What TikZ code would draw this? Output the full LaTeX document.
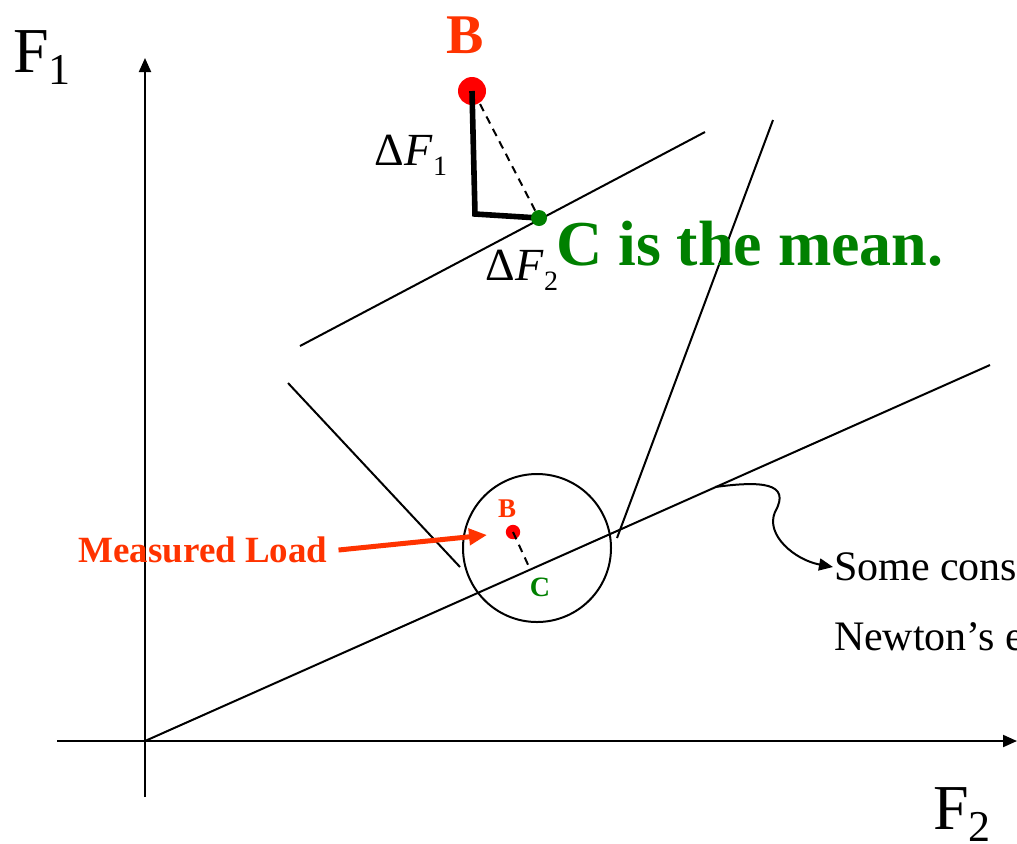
\documentclass[tikz,border=0pt]{standalone}
\usepackage{fontspec}
\setmainfont{Liberation Serif}
\usetikzlibrary{arrows.meta}
\definecolor{loadred}{HTML}{FF3300}
\definecolor{meangreen}{HTML}{008000}
\newcommand{\fsz}[1]{\fontsize{#1pt}{1.2\dimexpr#1pt\relax}\selectfont}
\begin{document}
\begin{tikzpicture}[x=0.5pt,y=-0.5pt,line width=1pt,
        axis/.style={-{Triangle[length=7pt,width=6pt]}},
        ptlabel/.style={inner sep=0pt,font=\bfseries}]
        \useasboundingbox (0,0) rectangle (1017,843);
        % axes
        \coordinate (O) at (145,741);
        \draw[axis] (145,797) -- (145,58) coordinate (F1tip);
        \draw[axis] (57,741) -- (1017,741) coordinate (F2tip);
        \node (F1) at (42,58) {\fsz{32}F\raisebox{-6pt}{\fsz{22}1}};
        \node (F2) at (962,815) {\fsz{32}F\raisebox{-6pt}{\fsz{22}2}};
        % constraint lines
        \coordinate (L1) at (990,365);
        \draw (O) -- (L1);
        \coordinate (U0) at (300,346);
        \coordinate (U1) at (705,132);
        \draw (U0) -- (U1);
        \coordinate (Z0) at (288,383);
        \coordinate (Z1) at (460,567);
        \draw (Z0) -- (Z1);
        \coordinate (Z2) at (773,120);
        \coordinate (Z3) at (617,538);
        \draw (Z2) -- (Z3);
        % zoom circle
        \coordinate (Zc) at (537,548);
        \draw (Zc) circle (37pt);
        \fill[red] (513,532) coordinate (Bs) circle (3.6pt);
        \node[ptlabel,text=loadred,font=\bfseries\fsz{13.5}] (Bslab) at (507,509) {B};
        \coordinate (Cs) at (530,569);
        \draw[dashed,dash pattern=on 4pt off 3pt] (Bs) -- (Cs);
        \node[ptlabel,text=meangreen,font=\bfseries\fsz{14}] (Cslab) at (540,587) {C};
        \node[text=loadred,font=\bfseries\fsz{18.5},inner sep=0pt] (load) at (203,550) {Measured Load};
        \draw[loadred,line width=2.5pt,-{Triangle[length=9pt,width=8pt]}] (load.east) ++(10,0) -- (487,535);
        % magnified view
        \fill[red] (472,91) coordinate (Bb) circle (7pt);
        \node[ptlabel,text=loadred,font=\bfseries\fsz{28}] (Bblab) at (465,35) {B};
        \coordinate (K) at (475,214);
        \coordinate (Cb) at (539,218);
        \draw[line width=2.8pt] (Bb) -- (K) -- (Cb);
        \draw[dashed,dash pattern=on 4pt off 3pt] (480,104) -- (Cb);
        \fill[meangreen] (Cb) circle (4pt);
        \node (dF1) at (411,155) {\fsz{23}Δ\textit{F}\raisebox{-5pt}{\fsz{14}1}};
        \node (dF2) at (522,270) {\fsz{23}Δ\textit{F}\raisebox{-5pt}{\fsz{14}2}};
        \node[anchor=west,text=meangreen,font=\bfseries\fsz{32},inner sep=0pt] (mean) at (555,244) {C is the mean.};
        % remark
        \node[anchor=west,inner sep=0pt,font=\fsz{21}] (note1) at (833,567) {Some cons};
        \node[anchor=west,inner sep=0pt,font=\fsz{21}] (note2) at (833,637) {Newton’s e};
        \draw[-{Triangle[length=7pt,width=6pt]}] (715,487) .. controls (760,481) and (792,482) .. (775,512)
                .. controls (765,535) and (795,560) .. (note1.west);
    \end{tikzpicture}
\end{document}
